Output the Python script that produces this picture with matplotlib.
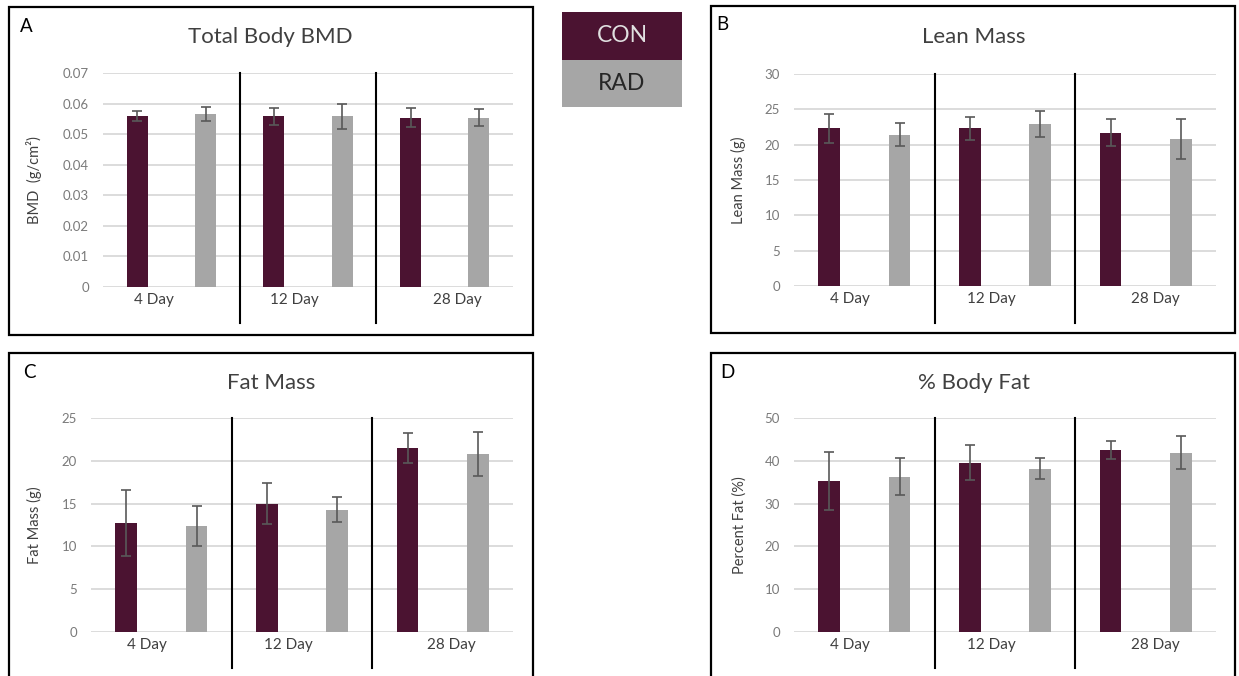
import matplotlib
matplotlib.use('Agg')
import matplotlib.pyplot as plt
from matplotlib.patches import Rectangle

plt.rcParams['font.family'] = ['Lato', 'DejaVu Sans']

days = ['4 Day', '12 Day', '28 Day']

bmd_con = [0.0559, 0.0559, 0.0554]
bmd_con_err = [0.0017, 0.0028, 0.0031]
bmd_rad = [0.0566, 0.0559, 0.0554]
bmd_rad_err = [0.0023, 0.0041, 0.0027]

lean_con = [22.3, 22.3, 21.7]
lean_con_err = [2.1, 1.6, 1.95]
lean_rad = [21.4, 22.9, 20.8]
lean_rad_err = [1.65, 1.8, 2.8]

fat_con = [12.7, 15.0, 21.5]
fat_con_err = [3.85, 2.4, 1.8]
fat_rad = [12.4, 14.3, 20.8]
fat_rad_err = [2.3, 1.45, 2.6]

pct_con = [35.3, 39.6, 42.5]
pct_con_err = [6.7, 4.1, 2.15]
pct_rad = [36.3, 38.2, 41.9]
pct_rad_err = [4.3, 2.35, 3.85]

CON_COLOR = '#4b1331'
RAD_COLOR = '#a6a6a6'

W, H = 1239, 676
fig = plt.figure(figsize=(W / 100, H / 100), dpi=100)


def px_axes(left, top, right, bottom):
    return fig.add_axes([left / W, 1 - bottom / H, (right - left) / W, (bottom - top) / H])


def px_box(left, top, right, bottom):
    r = Rectangle((left / W, 1 - bottom / H), (right - left) / W, (bottom - top) / H,
                  transform=fig.transFigure, fill=False, edgecolor='black', linewidth=1.6)
    fig.add_artist(r)


def panel(ax, con, con_err, rad, rad_err, ymax, step, ylabel, fmt, lab_x, sep_low):
    x_con = [i + 0.25 for i in range(3)]
    x_rad = [i + 0.75 for i in range(3)]
    ax.bar(x_con, con, width=0.155, color=CON_COLOR, zorder=2)
    ax.bar(x_rad, rad, width=0.155, color=RAD_COLOR, zorder=2)
    ax.errorbar(x_con, con, yerr=con_err, fmt='none', ecolor='#595959',
                elinewidth=1.2, capsize=3.5, capthick=1.2, zorder=3)
    ax.errorbar(x_rad, rad, yerr=rad_err, fmt='none', ecolor='#595959',
                elinewidth=1.2, capsize=3.5, capthick=1.2, zorder=3)
    ax.set_xlim(0, 3)
    ax.set_ylim(0, ymax)
    ticks = [k * step for k in range(int(round(ymax / step)) + 1)]
    ax.set_yticks(ticks)
    ax.set_yticklabels([fmt(t) for t in ticks], color='#7a7a7a', fontsize=9.5)
    ax.set_xticks(lab_x)
    ax.set_xticklabels(days, color='#404040', fontsize=11)
    ax.tick_params(axis='y', length=0, pad=10)
    ax.tick_params(axis='x', length=0, pad=4)
    for s in ax.spines.values():
        s.set_visible(False)
    ax.yaxis.grid(True, color='#d9d9d9', linewidth=1.3, zorder=0)
    ax.set_axisbelow(True)
    ax.set_ylabel(ylabel, color='#404040', fontsize=10.5)
    for xs in [1, 2]:
        ax.axvline(xs, ymin=sep_low, ymax=1.0, color='black', linewidth=1.5, clip_on=False, zorder=4)


# panel boxes
px_box(9, 7, 533, 335)
px_box(711, 6, 1235, 333)
px_box(9, 353, 533, 720)
px_box(711, 353, 1235, 720)

ax_a = px_axes(103, 73, 513, 287)
panel(ax_a, bmd_con, bmd_con_err, bmd_rad, bmd_rad_err, 0.07, 0.01, 'BMD  (g/cm²)',
      lambda t: '0' if t == 0 else '%.2f' % t, [0.37, 1.40, 2.59], -0.17)
ax_a.yaxis.set_label_coords(-0.149, 0.5)

ax_b = px_axes(794, 74, 1216, 286)
panel(ax_b, lean_con, lean_con_err, lean_rad, lean_rad_err, 30, 5, 'Lean Mass (g)',
      lambda t: '%d' % t, [0.40, 1.40, 2.57], -0.175)
ax_b.yaxis.set_label_coords(-0.113, 0.5)

ax_c = px_axes(91, 418, 513, 632)
panel(ax_c, fat_con, fat_con_err, fat_rad, fat_rad_err, 25, 5, 'Fat Mass (g)',
      lambda t: '%d' % t, [0.40, 1.40, 2.56], -0.17)
ax_c.yaxis.set_label_coords(-0.116, 0.5)

ax_d = px_axes(794, 418, 1216, 632)
panel(ax_d, pct_con, pct_con_err, pct_rad, pct_rad_err, 50, 10, 'Percent Fat (%)',
      lambda t: '%d' % t, [0.40, 1.40, 2.57], -0.17)
ax_d.yaxis.set_label_coords(-0.113, 0.5)

# titles and panel letters
for (tx, ty, txt) in [(270, 37, 'Total Body BMD'), (974, 37, 'Lean Mass'),
                      (271, 383, 'Fat Mass'), (974, 383, '% Body Fat')]:
    fig.text(tx / W, 1 - ty / H, txt, ha='center', va='center', fontsize=16, color='#404040')

for (tx, ty, txt) in [(26, 27, 'A'), (722, 25, 'B'), (29, 372, 'C'), (727, 373, 'D')]:
    fig.text(tx / W, 1 - ty / H, txt, ha='center', va='center', fontsize=13.5, color='black')

# legend boxes
fig.add_artist(Rectangle((562 / W, 1 - 60 / H), 120 / W, 48 / H, transform=fig.transFigure,
                         facecolor=CON_COLOR, edgecolor='none'))
fig.add_artist(Rectangle((562 / W, 1 - 107 / H), 120 / W, 47 / H, transform=fig.transFigure,
                         facecolor=RAD_COLOR, edgecolor='none'))
fig.text(622 / W, 1 - 36 / H, 'CON', ha='center', va='center', fontsize=16.5, color='#e0e0e0')
fig.text(622 / W, 1 - 84 / H, 'RAD', ha='center', va='center', fontsize=16.5, color='#262626')

fig.savefig('out.png', dpi=100)
